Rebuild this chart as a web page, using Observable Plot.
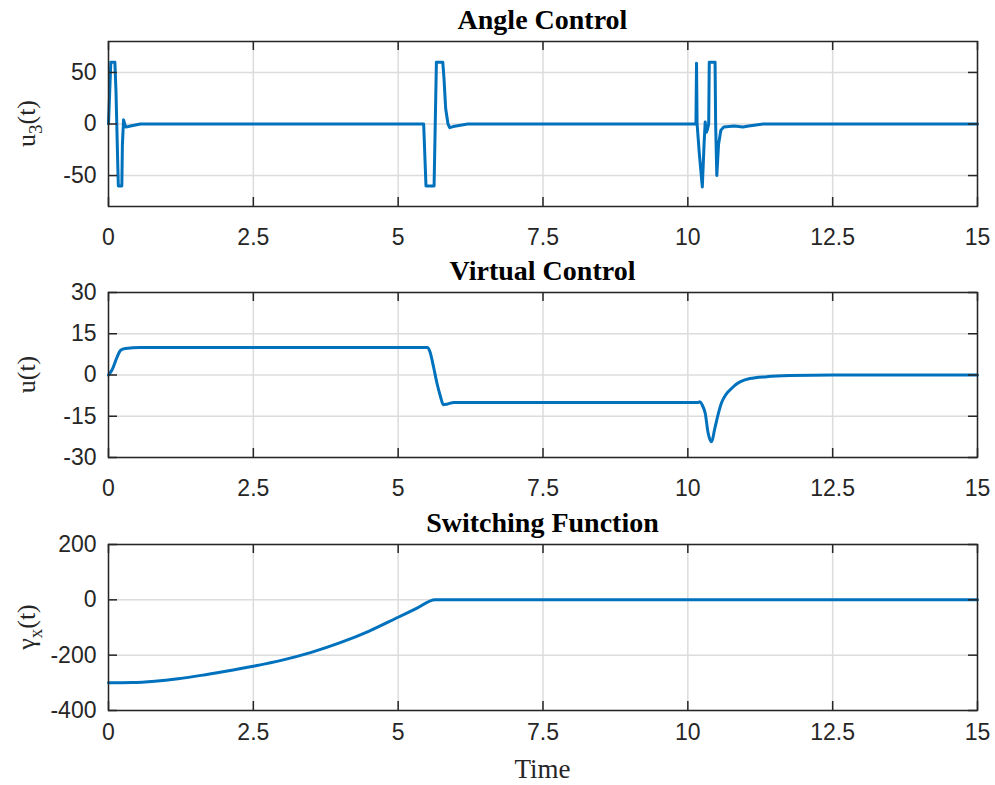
<!DOCTYPE html>
<html><head><meta charset="utf-8">
<script src="https://cdn.jsdelivr.net/npm/d3@7"></script>
<script src="https://cdn.jsdelivr.net/npm/@observablehq/plot@0.6"></script>
<style>
body{margin:0;background:#fff;}
#root{position:relative;width:995px;height:785px;overflow:hidden;background:#fff;}
#root > svg{position:absolute;left:0;}
</style>
</head><body><div id="root"></div>
<script>
// ---- data ----
const xTicks = [0, 2.5, 5, 7.5, 10, 12.5, 15];

const t1 = [0, 0.02, 0.04, 0.11, 0.13, 0.16, 0.17, 0.23, 0.24, 0.26, 0.28, 0.30, 0.38, 0.55,
  5.44, 5.46, 5.48, 5.62, 5.64, 5.66, 5.77, 5.79, 5.82, 5.86, 5.89, 5.95, 6.2,
  10.14, 10.15, 10.16, 10.20, 10.25, 10.28, 10.30, 10.32, 10.34, 10.36, 10.37, 10.47, 10.48, 10.50, 10.53, 10.57, 10.62, 10.8, 10.95, 11.05, 11.3, 15];
const u3 = [0, 30, 60, 60, 30, -40, -60, -60, -20, 4, 0, -3, -2, 0,
  0, -30, -60, -60, 0, 60, 60, 45, 15, 0, -3.5, -2.5, 0,
  0, 59, 0, -30, -61, -20, 2, -8, -5, 0, 60, 60, 0, -50, -20, -6, -3, -2, -3, -2, 0, 0];
const y1Ticks = [-50, 0, 50];

const t2 = [0, 0.06, 0.15, 0.21, 0.29, 0.55, 5.50, 5.55, 5.61, 5.67, 5.73, 5.78, 5.84, 5.96,
  10.18, 10.21, 10.25, 10.30, 10.35, 10.41, 10.46, 10.50, 10.58, 10.79, 11.07, 11.36, 11.76, 12.5, 15];
const u = [0, 1.8, 6.6, 9, 9.6, 10, 10, 8.4, 3, -3, -7.8, -10.8, -10.6, -10,
  -10, -9.7, -11, -13.9, -21.1, -24.3, -20, -16.3, -10.2, -4.2, -1.3, -0.6, -0.2, 0, 0];
const y2Ticks = [-30, -15, 0, 15, 30];

const t3 = [0, 0.4, 0.8, 1.2, 1.6, 2.0, 2.5, 3.0, 3.5, 4.0, 4.5, 5.0, 5.3, 5.64, 15];
const gammaX = [-300, -299, -294, -285, -273, -259, -240, -218, -190, -155, -113, -63, -33, 0, 0];
const y3Ticks = [-400, -200, 0, 200];

const titles = ["Angle Control", "Virtual Control", "Switching Function"];
const xLabel = "Time";

// ---- layout ----
const W = 995, ML = 108, MR = 18;
const FW = W - ML - MR;
const dark = "#262626", gridC = "#dcdcdc", lineC = "#0072BD";

function panel({t, v, yDomain, yTicks, top, height, mt, mb, curve, pad}) {
  const data = t.map((d, i) => ({t: d, v: v[i]}));
  const fh = height - mt - mb;
  const fmt = d => String(d);
  const svg = Plot.plot({
    width: W, height, marginLeft: ML, marginRight: MR, marginTop: mt, marginBottom: mb,
    x: {domain: [0, 15]},
    y: {domain: yDomain},
    style: {fontFamily: "'Liberation Sans', Arial, sans-serif", fontSize: "23px", color: dark, background: "white", overflow: "visible"},
    marks: [
      Plot.gridX(xTicks, {stroke: gridC, strokeOpacity: 1, strokeWidth: 1.5}),
      Plot.gridY(yTicks, {stroke: gridC, strokeOpacity: 1, strokeWidth: 1.5}),
      Plot.line(data, {x: "t", y: "v", stroke: lineC, strokeWidth: 3, curve}),
      Plot.tickX(xTicks, {x: d => d, stroke: dark, strokeWidth: 1.5, insetTop: fh - 9}),
      Plot.tickX(xTicks, {x: d => d, stroke: dark, strokeWidth: 1.5, insetBottom: fh - 9}),
      Plot.tickY(yTicks, {y: d => d, stroke: dark, strokeWidth: 1.5, insetRight: FW - 9}),
      Plot.tickY(yTicks, {y: d => d, stroke: dark, strokeWidth: 1.5, insetLeft: FW - 9}),
      Plot.frame({stroke: dark, strokeWidth: 1.5}),
      Plot.axisX(xTicks, {tickSize: 0, tickPadding: pad, tickFormat: fmt, fill: dark, label: null}),
      Plot.axisY(yTicks, {tickSize: 0, tickPadding: 12, tickFormat: fmt, fill: dark, label: null})
    ]
  });
  svg.style.top = top + "px";
  document.getElementById("root").appendChild(svg);
}

panel({t: t1, v: u3, yDomain: [-80, 80], yTicks: y1Ticks, top: 0, height: 250, mt: 41, mb: 44, curve: "linear", pad: 22});
panel({t: t2, v: u, yDomain: [-30, 30], yTicks: y2Ticks, top: 250, height: 250, mt: 42, mb: 43, curve: "monotone-x", pad: 22});
panel({t: t3, v: gammaX, yDomain: [-400, 200], yTicks: y3Ticks, top: 500, height: 285, mt: 44, mb: 75, curve: "monotone-x", pad: 13});

// ---- text overlay ----
const ov = d3.select("#root").append("svg")
  .attr("width", W).attr("height", 785)
  .style("top", "0px").style("pointer-events", "none")
  .style("font-family", "'Liberation Serif', 'Times New Roman', serif")
  .attr("fill", "#000");
const cx = ML + FW / 2;
const titleBase = [29, 280, 532];
titles.forEach((s, i) => {
  ov.append("text").attr("x", cx).attr("y", titleBase[i]).attr("text-anchor", "middle")
    .attr("font-size", 28).attr("font-weight", "bold").text(s);
});
ov.append("text").attr("x", cx).attr("y", 778).attr("text-anchor", "middle")
  .attr("font-size", 27).attr("fill", dark).text(xLabel);

const ylabs = [
  {c: 123.5, main: "u", sub: "3"},
  {c: 374.5, main: "u", sub: null},
  {c: 627, main: "\u03B3", sub: "x"}
];
ylabs.forEach(l => {
  const tx = ov.append("text").attr("transform", `translate(35,${l.c}) rotate(-90)`)
    .attr("text-anchor", "middle").attr("font-size", 26).attr("fill", dark);
  tx.append("tspan").text(l.main);
  if (l.sub) {
    tx.append("tspan").attr("dy", 7).attr("font-size", 19).text(l.sub);
    tx.append("tspan").attr("dy", -7).text("(t)");
  } else {
    tx.append("tspan").text("(t)");
  }
});
</script>
</body></html>
